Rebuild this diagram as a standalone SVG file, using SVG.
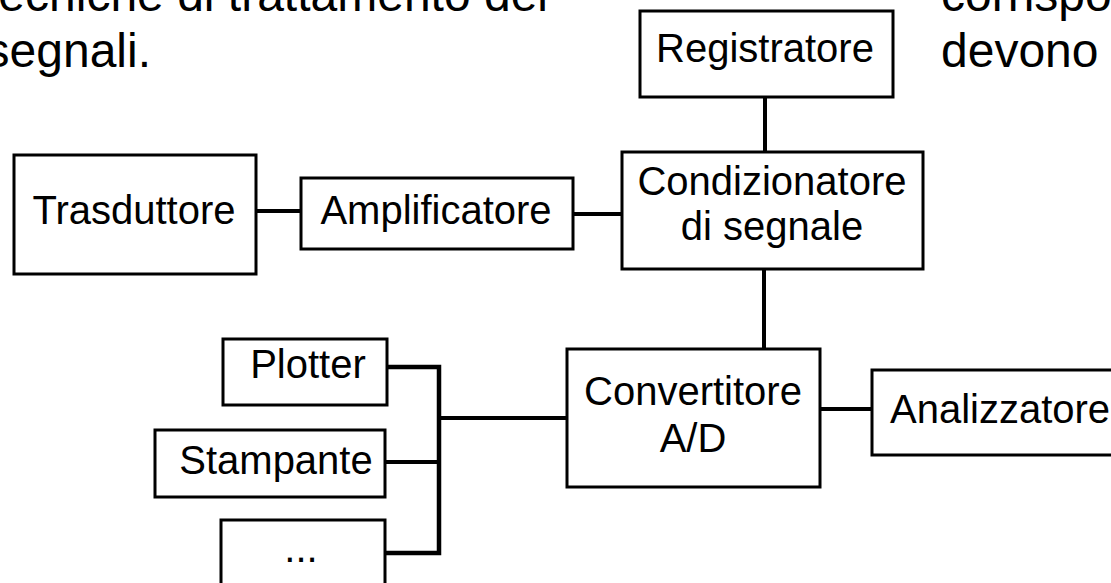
<svg xmlns="http://www.w3.org/2000/svg" width="1111" height="583" viewBox="0 0 1111 583">
<style>
.bg{font-family:"Liberation Sans",Arial,sans-serif;font-size:48px;fill:#000}
.box{fill:#fff;stroke:#000;stroke-width:3}
.lbl{font-family:"Liberation Sans",Arial,sans-serif;font-size:40px;fill:#000;text-anchor:middle}
.wire{stroke:#000;stroke-width:4;fill:none;stroke-linecap:square}
.bus{stroke:#000;stroke-width:4.5;fill:none}
</style>
<rect width="1111" height="583" fill="#fff"/>
<g id="background-text">
<text class="bg" x="548" y="11" text-anchor="end">ecniche di trattamento dei</text>
<text class="bg" x="151" y="67" text-anchor="end">segnali.</text>
<text class="bg" x="941" y="11">corrispo</text>
<text class="bg" x="941" y="67">devono</text>
</g>
<g id="connectors">
<line class="wire" x1="765" y1="97" x2="765" y2="152"/>
<line class="wire" x1="256" y1="211" x2="301" y2="211"/>
<line class="wire" x1="573" y1="214" x2="622" y2="214"/>
<line class="wire" x1="764" y1="269" x2="764" y2="349"/>
<line class="wire" x1="820" y1="409" x2="872" y2="409"/>
<polyline class="bus" points="387,367 439,367 439,553 385,553"/>
<line class="wire" x1="385" y1="462" x2="439" y2="462"/>
<line class="wire" x1="439" y1="418" x2="567" y2="418"/>
</g>
<g id="registratore">
<rect class="box" x="640" y="11" width="253" height="86"/>
<text class="lbl" x="765" y="62">Registratore</text>
</g>
<g id="condizionatore">
<rect class="box" x="622" y="152" width="301" height="117"/>
<text class="lbl" x="772" y="195">Condizionatore</text>
<text class="lbl" x="772" y="240">di segnale</text>
</g>
<g id="trasduttore">
<rect class="box" x="14" y="155" width="242" height="119"/>
<text class="lbl" x="134" y="224">Trasduttore</text>
</g>
<g id="amplificatore">
<rect class="box" x="301" y="178" width="272" height="71"/>
<text class="lbl" x="436" y="224">Amplificatore</text>
</g>
<g id="convertitore">
<rect class="box" x="567" y="349" width="253" height="138"/>
<text class="lbl" x="693" y="405">Convertitore</text>
<text class="lbl" x="693" y="452">A/D</text>
</g>
<g id="analizzatore">
<rect class="box" x="872" y="370" width="260" height="85"/>
<text class="lbl" x="890" y="423" style="text-anchor:start">Analizzatore</text>
</g>
<g id="plotter">
<rect class="box" x="223" y="339" width="164" height="66"/>
<text class="lbl" x="308" y="378">Plotter</text>
</g>
<g id="stampante">
<rect class="box" x="155" y="430" width="230" height="67"/>
<text class="lbl" x="276" y="474">Stampante</text>
</g>
<g id="altro">
<rect class="box" x="221" y="520" width="164" height="80"/>
<text class="lbl" x="301" y="562">...</text>
</g>
</svg>
